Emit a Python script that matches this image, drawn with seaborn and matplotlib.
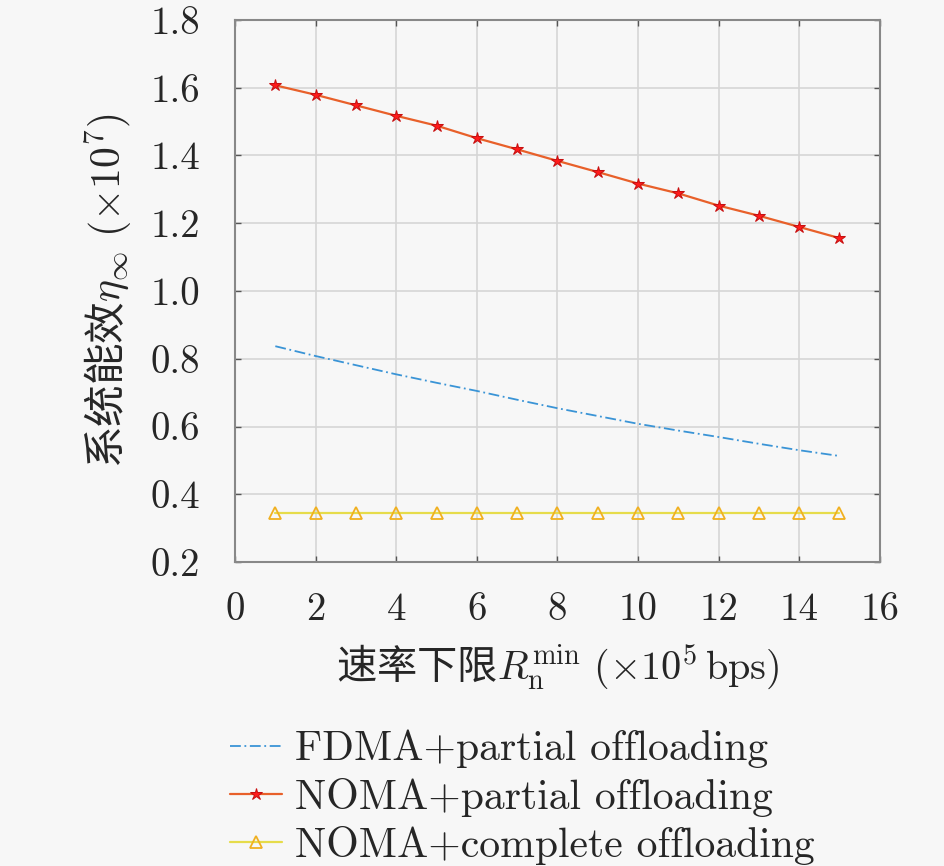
import matplotlib
matplotlib.use("Agg")
import matplotlib.pyplot as plt
import seaborn as sns
import numpy as np
import pandas as pd

# ---- data ----
rate_min = [1, 2, 3, 4, 5, 6, 7, 8, 9, 10, 11, 12, 13, 14, 15]
fdma_partial = [0.837, 0.808, 0.781, 0.754, 0.729, 0.705, 0.679, 0.654, 0.631, 0.608, 0.588, 0.569, 0.549, 0.530, 0.513]
noma_partial = [1.607, 1.579, 1.548, 1.517, 1.488, 1.451, 1.418, 1.384, 1.351, 1.317, 1.288, 1.252, 1.222, 1.189, 1.156]
noma_complete = [0.345, 0.345, 0.345, 0.345, 0.345, 0.345, 0.345, 0.345, 0.345, 0.345, 0.345, 0.345, 0.345, 0.345, 0.345]
series_names = ["FDMA+partial offloading", "NOMA+partial offloading", "NOMA+complete offloading"]
x_ticks = [0, 2, 4, 6, 8, 10, 12, 14, 16]
y_ticks = [0.2, 0.4, 0.6, 0.8, 1.0, 1.2, 1.4, 1.6, 1.8]

sns.set_theme(style="ticks")
plt.rcParams['font.family'] = ['cmr10', 'DejaVu Sans']
plt.rcParams['mathtext.fontset'] = 'cm'
plt.rcParams['axes.formatter.use_mathtext'] = True

bg = '#f7f7f7'
fig = plt.figure(figsize=(9.45, 8.66), dpi=100, facecolor=bg)
ax = fig.add_axes([0.2487, 0.351, 0.6823, 0.626])
ax.set_facecolor(bg)

df = pd.DataFrame({
    "x": rate_min * 3,
    "y": fdma_partial + noma_partial + noma_complete,
    "s": [series_names[0]] * 15 + [series_names[1]] * 15 + [series_names[2]] * 15,
})

sns.lineplot(data=df[df.s == series_names[0]], x="x", y="y", ax=ax,
             color='#3a94d6', lw=1.3, linestyle=(0, (6, 2, 1, 2)), label=series_names[0])
sns.lineplot(data=df[df.s == series_names[1]], x="x", y="y", ax=ax,
             color='#e8602a', lw=1.6, marker='*', markersize=9,
             markerfacecolor='#ff1a1a', markeredgecolor='#c81010', label=series_names[1])
sns.lineplot(data=df[df.s == series_names[2]], x="x", y="y", ax=ax,
             color='#e6dc4a', lw=1.6, marker='^', markersize=9,
             markerfacecolor='none', markeredgecolor='#f0b020', markeredgewidth=1.3,
             label=series_names[2])

ax.set_xlim(0, 16)
ax.set_ylim(0.2, 1.8)
ax.set_xticks(x_ticks)
ax.set_yticks(y_ticks)
ax.set_xticklabels([str(v) for v in x_ticks])
ax.set_yticklabels([f"{v:.1f}" for v in y_ticks])
ax.grid(True, color='#d6d6d6', lw=1.2)
for sp in ax.spines.values():
    sp.set_visible(True)
    sp.set_color('#888888')
    sp.set_linewidth(1.5)
ax.tick_params(direction='in', length=4, width=1, color='#555555',
               top=True, right=True, labelsize=28)
ax.tick_params(axis='y', pad=25)
ax.tick_params(axis='x', pad=22)

cjk = ['Noto Sans CJK SC', 'DejaVu Sans']
ax.set_xlabel(r"速率下限$R_\mathrm{n}^\mathrm{min}\ (\times10^5\,\mathrm{bps})$",
              fontsize=29, labelpad=10, fontfamily=cjk)
ax.set_ylabel(r"系统能效$\eta_\infty\ (\times10^7)$", fontsize=30, labelpad=12,
              fontfamily=cjk)

ax.get_legend().remove()
h, l = ax.get_legend_handles_labels()
fig.legend(h, l, loc='upper left', bbox_to_anchor=(230 / 945, 1 - 730 / 866),
           frameon=False, fontsize=30, handlelength=1.25, handletextpad=0.3,
           labelspacing=0.22, borderaxespad=0, borderpad=0)

fig.savefig("out.png", dpi=100, facecolor=bg)
